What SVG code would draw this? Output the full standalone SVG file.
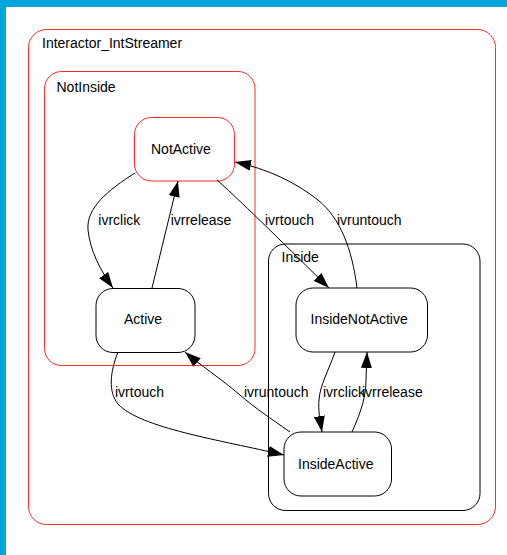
<svg xmlns="http://www.w3.org/2000/svg" width="507" height="555" viewBox="0 0 507 555">
<style>
text{font-family:"Liberation Sans",Arial,sans-serif;font-size:14px;fill:#000}
.cl{fill:none;stroke-width:1}
.red{stroke:#ff2a2a}
.blk{stroke:#000}
.node{fill:none;stroke-width:1}
.edge{fill:none;stroke:#000;stroke-width:1}
</style>
<defs>
<marker id="arr" markerUnits="userSpaceOnUse" markerWidth="16" markerHeight="11" refX="16" refY="5.5" orient="auto">
<path d="M0,0 L16,5.5 L0,11 z" fill="#000"/>
</marker>
</defs>
<rect x="0" y="0" width="507" height="555" fill="#00A4D8"/>
<rect x="6" y="7" width="501" height="548" fill="#fff"/>

<g id="cluster_Interactor_IntStreamer">
<rect class="cl red" x="28.5" y="29.5" width="467" height="495" rx="18"/>
<text x="42" y="48">Interactor_IntStreamer</text>
</g>
<g id="cluster_NotInside">
<rect class="cl red" x="44.5" y="71.5" width="210.5" height="294" rx="17"/>
<text x="56.5" y="91.5">NotInside</text>
</g>
<g id="cluster_Inside">
<rect class="cl blk" x="268.5" y="244" width="211.5" height="266.5" rx="17"/>
<text x="281.5" y="261.5">Inside</text>
</g>

<g id="NotActive">
<rect class="node red" x="134.5" y="117.5" width="100" height="63.5" rx="17"/>
<text x="151" y="154">NotActive</text>
</g>
<g id="Active">
<rect class="node blk" x="96" y="288.5" width="99" height="64" rx="17"/>
<text x="124" y="324">Active</text>
</g>
<g id="InsideNotActive">
<rect class="node blk" x="296" y="288" width="131.5" height="64" rx="17"/>
<text x="310.5" y="324">InsideNotActive</text>
</g>
<g id="InsideActive">
<rect class="node blk" x="284" y="432" width="107.5" height="64" rx="17"/>
<text x="298" y="469">InsideActive</text>
</g>

<g id="edges">
<path class="edge" marker-end="url(#arr)" d="M135,173 C108,190 86,208 88,230 C90,250 100,270 113,288"/>
<text x="98.3" y="225">ivrclick</text>
<path class="edge" marker-end="url(#arr)" d="M152,288 L178,181"/>
<text x="170.7" y="225">ivrrelease</text>
<path class="edge" marker-end="url(#arr)" d="M217,180 C245,205 290,250 329,288"/>
<text x="265" y="225">ivrtouch</text>
<path class="edge" marker-end="url(#arr)" d="M357,288 C352,248 340,218 318,200 C295,182 268,169 235,162"/>
<text x="337" y="225">ivruntouch</text>
<path class="edge" marker-end="url(#arr)" d="M118,352 C110,372 108,392 118,404 C140,428 220,440 284,455"/>
<text x="115" y="396.7">ivrtouch</text>
<path class="edge" marker-end="url(#arr)" d="M290,432 C270,418 255,408 240,395 C220,378 200,365 185,352"/>
<text x="244" y="396.7">ivruntouch</text>
<path class="edge" marker-end="url(#arr)" d="M335,352 C328,372 320,385 319,400 C318,410 320,420 322,432"/>
<text x="323" y="396.7">ivrclick</text>
<path class="edge" marker-end="url(#arr)" d="M352,432 C362,410 366,395 366,380 L367,352"/>
<text x="362" y="396.7">ivrrelease</text>
</g>
</svg>
